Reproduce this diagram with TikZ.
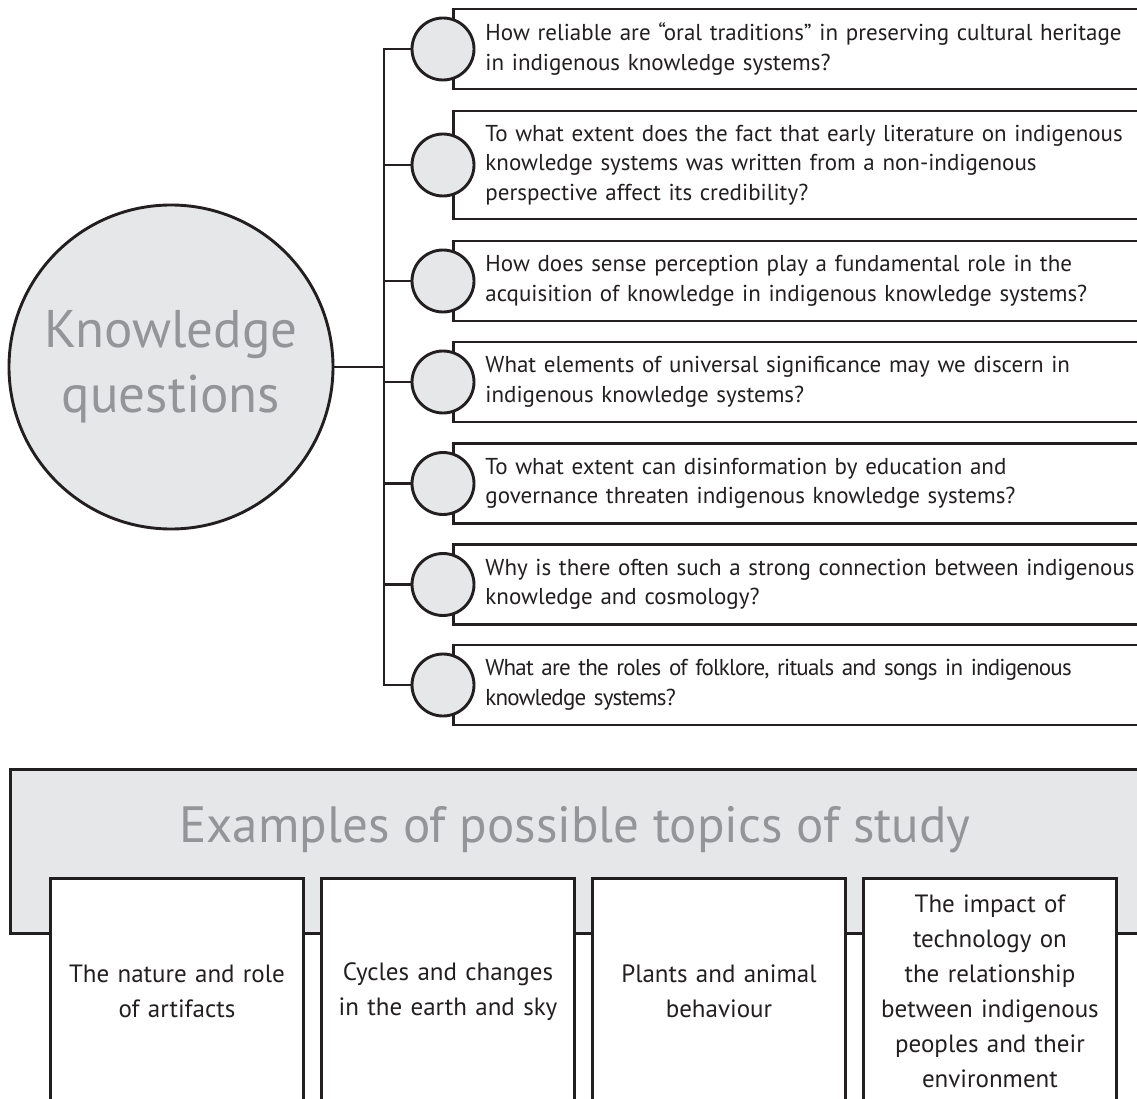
\documentclass[tikz,border=0pt]{standalone}
\usepackage{fontspec}
\setmainfont{PT Sans}
\newfontfamily\tightfont[LetterSpace=-3.6]{PT Sans}
\definecolor{ink}{HTML}{231F20}
\definecolor{fillgray}{HTML}{E6E7E8}
\definecolor{textgray}{HTML}{939598}
\begin{document}
\begin{tikzpicture}[x=1pt,y=-1pt,
  line/.style={draw=ink, line width=2.9pt},
  qbox/.style={line, fill=white, rectangle, anchor=west, inner xsep=32pt, inner ysep=0pt,
    text width=680pt, align=left, text=ink, font=\fontsize{23}{29.5}\selectfont},
  dot/.style={line, fill=fillgray, circle, minimum size=62pt, inner sep=0pt},
  tbox/.style={line, fill=white, rectangle, anchor=north west, minimum width=253pt,
    minimum height=226pt, inner sep=0pt, text width=240pt, align=center, text=ink,
    font=\fontsize{25}{35}\selectfont}
]
\useasboundingbox (0,0) rectangle (1137,1099);
\clip (0,0) rectangle (1137,1099);

% ---- top part: question boxes ----
\node (q1) [qbox, minimum height=80pt] at (452,49) {How reliable are “oral traditions” in preserving cultural heritage\\in indigenous knowledge systems?};
\node (q2) [qbox, minimum height=108pt] at (452,165) {To what extent does the fact that early literature on indigenous\\knowledge systems was written from a non-indigenous\\perspective affect its credibility?};
\node (q3) [qbox, minimum height=80pt] at (452,281) {How does sense perception play a fundamental role in the\\acquisition of knowledge in indigenous knowledge systems?};
\node (q4) [qbox, minimum height=80pt] at (452,382) {What elements of universal significance may we discern in\\indigenous knowledge systems?};
\node (q5) [qbox, minimum height=80pt] at (452,483.5) {To what extent can disinformation by education and\\governance threaten indigenous knowledge systems?};
\node (q6) [qbox, minimum height=80pt] at (452,584.5) {Why is there often such a strong connection between indigenous\\knowledge and cosmology?};
\node (q7) [qbox, minimum height=80pt, font=\tightfont\fontsize{23}{29.5}\selectfont] at (452,685) {What are the roles of folklore, rituals and songs in indigenous\\knowledge systems?};

% junction points
\coordinate (j1) at (384,49);
\coordinate (j2) at (384,165);
\coordinate (j3) at (384,281);
\coordinate (j4) at (384,382);
\coordinate (j5) at (384,483.5);
\coordinate (j6) at (384,584.5);
\coordinate (j7) at (384,685);
\coordinate (jm) at (384,367);

\draw[line, line cap=rect] (j1) -- (j7);
\foreach \i in {1,...,7} {
  \node (c\i) [dot] at (443,0 |- j\i) {};
  \draw[line] (j\i) -- (c\i.west);
}

\node (kq) [line, fill=fillgray, circle, minimum size=324pt, inner sep=0pt, align=center,
  text=textgray, font=\fontsize{53}{65}\selectfont] at (171,367) {Knowledge\\questions};
\draw[line] (kq.east) -- (jm);

% ---- bottom part: topics ----
\node (banner) [line, fill=fillgray, rectangle, anchor=north west, minimum width=1180pt,
  minimum height=164pt, inner sep=0pt] at (9,768) {};
\node (title) [text=textgray, font=\fontsize{51}{60}\selectfont, anchor=base] at (575,842) {Examples of possible topics of study};

\node (t1) [tbox] at (49,877) {The nature and role\\of artifacts};
\node (t2) [tbox] at (320,877) {Cycles and changes\\in the earth and sky};
\node (t3) [tbox] at (591,877) {Plants and animal\\behaviour};
\node (t4) [tbox] at (862,877) {The impact of\\technology on\\the relationship\\between indigenous\\peoples and their\\environment};
\end{tikzpicture}
\end{document}
